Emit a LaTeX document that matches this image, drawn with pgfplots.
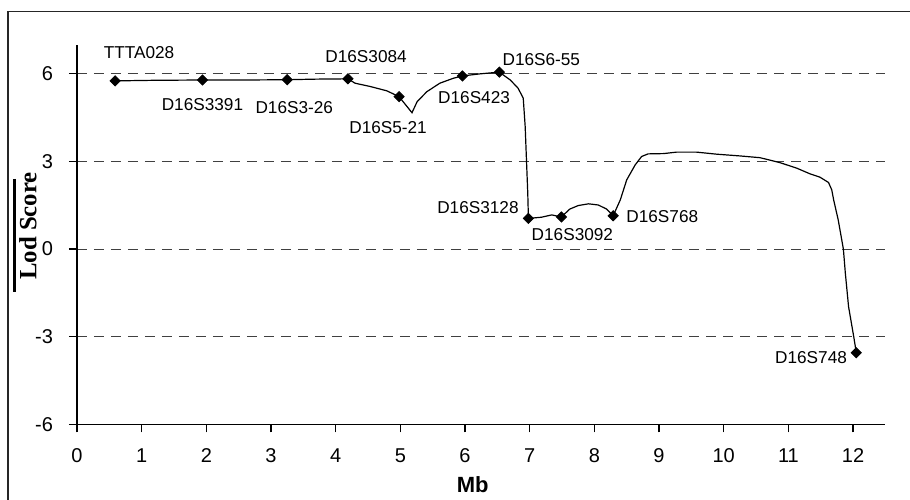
\documentclass[border=0pt]{standalone}
\usepackage{pgfplots}
\pgfplotsset{compat=1.18}
\usepackage{fontspec}
\setmainfont{Liberation Sans}
\newfontfamily\timesfont{Liberation Serif}
\tikzset{lab/.style={font=\fontsize{8.6}{9}\selectfont, inner sep=0pt}}

\begin{document}
\begin{tikzpicture}
\begin{axis}[
  scale only axis,
  width=404.2pt, height=189.8pt,
  xmin=0, xmax=12.5, ymin=-6, ymax=7,
  axis lines=left,
  axis line style={-, line width=0.6pt},
  xtick={0,1,...,12},
  ytick={-6,-3,0,3,6},
  yticklabels={-6,-3,0,3,6},
  tick align=outside,
  major tick length=4pt,
  tick style={line width=0.6pt, black},
  /pgf/number format/assume math mode=true,
  tick label style={font=\fontsize{10}{11}\selectfont},
  xticklabel style={yshift=-4.5pt},
  yticklabel style={xshift=-4.5pt},
  ymajorgrids,
  grid style={dash pattern=on 5pt off 3.5pt, black!75, line width=0.5pt},
  clip=false,
]
% smoothed curve
\addplot[black, line width=0.6pt, no marks] coordinates {
  (0.59,5.76) (1.20,5.78) (1.94,5.79) (2.60,5.79) (3.25,5.80) (3.70,5.82)
  (4.19,5.83) (4.30,5.68) (4.53,5.57) (4.79,5.42) (4.98,5.22) (5.18,4.67)
  (5.26,5.05) (5.41,5.39) (5.61,5.68) (5.82,5.85) (5.96,5.93) (6.23,6.00)
  (6.53,6.06) (6.70,5.79) (6.82,5.51) (6.90,5.17) (6.93,4.20) (6.95,3.05)
  (6.97,1.92) (6.98,1.05) (7.18,1.09) (7.34,1.17) (7.49,1.10) (7.62,1.37)
  (7.75,1.49) (7.91,1.55) (8.06,1.51) (8.19,1.37) (8.29,1.14) (8.40,1.68)
  (8.50,2.37) (8.63,2.88) (8.73,3.17) (8.83,3.26) (9.07,3.27) (9.27,3.32)
  (9.58,3.32) (9.89,3.25) (10.25,3.19) (10.56,3.13) (10.87,2.96) (11.13,2.77)
  (11.33,2.58) (11.49,2.46) (11.62,2.28) (11.67,2.03) (11.70,1.68) (11.77,1.00)
  (11.85,0.00) (11.88,-0.82) (11.93,-1.97) (12.01,-3.00) (12.05,-3.55)
};
% markers
\addplot[only marks, mark=square*, mark size=1.8pt, mark options={rotate=45, fill=black}] coordinates {
  (0.59,5.76) (1.94,5.79) (3.25,5.80) (4.19,5.83) (4.98,5.22) (5.96,5.93)
  (6.53,6.06) (6.98,1.05) (7.49,1.10) (8.29,1.14) (12.05,-3.55)
};
\node[lab] at (axis cs:0.96,6.72) {TTTA028};
\node[lab] at (axis cs:1.94,4.94) {D16S3391};
\node[lab] at (axis cs:3.36,4.83) {D16S3-26};
\node[lab] at (axis cs:4.47,6.58) {D16S3084};
\node[lab] at (axis cs:4.81,4.15) {D16S5-21};
\node[lab] at (axis cs:6.14,5.18) {D16S423};
\node[lab] at (axis cs:7.18,6.50) {D16S6-55};
\node[lab] at (axis cs:6.20,1.41) {D16S3128};
\node[lab] at (axis cs:7.66,0.49) {D16S3092};
\node[lab] at (axis cs:9.05,1.10) {D16S768};
\node[lab] at (axis cs:11.35,-3.73) {D16S748};
\node[font=\fontsize{11}{12}\selectfont\bfseries, inner sep=0pt] at (axis cs:6.12,-8.05) {Mb};
\node[rotate=90, inner sep=0pt, font=\fontsize{12.4}{14}\selectfont\timesfont\bfseries] at (axis cs:-0.76,0.79) {Lod Score};
\draw[line width=1.5pt] (axis cs:-0.96,2.40) -- (axis cs:-0.96,-1.47);
\coordinate (frBL) at (axis cs:-1.067,-8.70);
\coordinate (frTL) at (axis cs:-1.067,8.14);
\coordinate (frTR) at (axis cs:13.0,8.14);
\coordinate (bbA) at (axis cs:-1.19,-8.59);
\coordinate (bbB) at (axis cs:12.88,8.53);
\end{axis}
\draw[line width=0.8pt, black!85] (frBL) -- (frTL) -- (frTR);
\pgfresetboundingbox
\path[use as bounding box] (bbA) rectangle (bbB);
\end{tikzpicture}
\end{document}
